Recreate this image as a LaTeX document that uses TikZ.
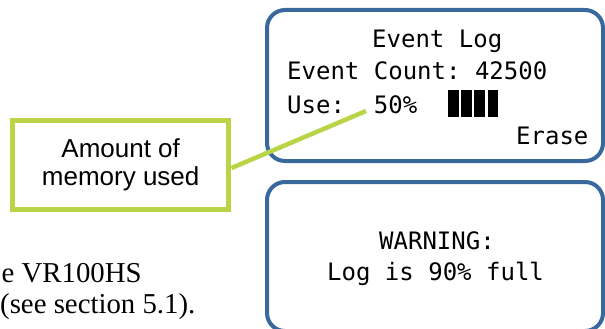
\documentclass[tikz,border=0pt]{standalone}
\usepackage{fontspec}
\setmainfont{Liberation Serif}
\newfontfamily\calloutfont{Liberation Sans}
\newfontfamily\lcdfont{DejaVu Sans Mono}
\definecolor{panelblue}{RGB}{56,104,156}
\definecolor{calloutgreen}{RGB}{185,212,70}

\begin{document}
\begin{tikzpicture}[x=1pt,y=-1pt,
  panel/.style={draw=panelblue, line width=4pt, rounded corners=18pt, fill=white,
    minimum width=336pt, inner sep=0pt},
  lcd/.style={anchor=base west, inner sep=0pt,
    font=\lcdfont\fontsize{24}{28}\selectfont\frenchspacing},
  callout/.style={draw=calloutgreen, line width=5pt, fill=white, align=center,
    minimum width=216.5pt, minimum height=89pt, inner sep=0pt,
    font=\calloutfont\fontsize{26}{27.7}\selectfont},
  pointer/.style={draw=calloutgreen, line width=4.5pt},
  bodytext/.style={anchor=base west, inner sep=0pt,
    font=\fontsize{28.8}{32}\selectfont},
  levelbar/.style={fill=black}
]
\useasboundingbox (0,0) rectangle (605,329);

% body text of the page behind the figure
\node[bodytext] (body1) at (1.5,282.3) {e VR100HS};
\node[bodytext] (body2) at (0,313) {(see section 5.1).};

% display screens
\node[panel, minimum height=151pt] (logpanel) at (435,85.5) {};
\node[panel, minimum height=149pt] (warnpanel) at (435,256.5) {};

% event log screen
\node[lcd] (title) at (372,48) {Event Log};
\node[lcd] (count) at (287,79) {Event Count: 42500};
\node[lcd] (use) at (287,113) {Use:\ \ 50\%};
\node[lcd] (erase) at (516,144) {Erase};
\foreach \x in {448.3,461.2,474.3,487.6}
  \fill[levelbar] (\x,90) rectangle ++(10.7,26.7);

% warning screen
\node[lcd] (warn1) at (379,249) {WARNING:};
\node[lcd] (warn2) at (327,280) {Log is 90\% full};

% callout
\node[callout] (callout) at (120.7,164.5) {Amount of\\memory used};
\coordinate (usemark) at (366,111);
\draw[pointer] ([yshift=-3.5pt]callout.east) -- (usemark);
\end{tikzpicture}
\end{document}
